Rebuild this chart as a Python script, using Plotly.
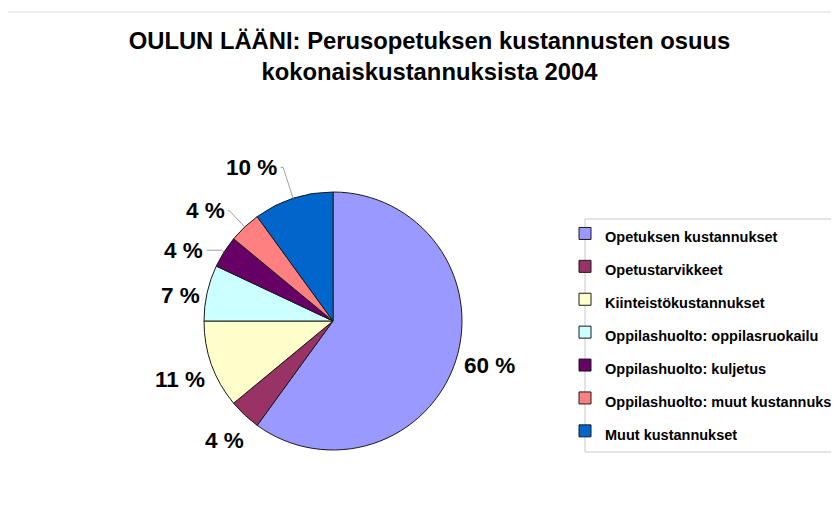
import math
import plotly.graph_objects as go

# kustannuserät ja osuudet (%)
categories = [
    "Opetuksen kustannukset",
    "Opetustarvikkeet",
    "Kiinteistökustannukset",
    "Oppilashuolto: oppilasruokailu",
    "Oppilashuolto: kuljetus",
    "Oppilashuolto: muut kustannukset",
    "Muut kustannukset",
]
shares = [60, 4, 11, 7, 4, 4, 10]
colors = ["#9999FF", "#993366", "#FFFFCC", "#CCFFFF", "#660066", "#FF8080", "#0066CC"]

# label placement (style): distance from centre in px, angular nudge in degrees, leader line
label_dist = [163, 161, 164, 155, 165, 169, 174]
label_nudge = [-2, -1, -1, -3, -7, -6, -10]
leader = [False, False, False, False, True, True, True]

W, H = 839, 524
OFF = 8  # page body margin
cx, cy, r = 333 - OFF, 321 - OFF, 129


def px(x):
    return (x - OFF) / W


def py(y):
    return 1 - (y - OFF) / H


fig = go.Figure()
fig.add_trace(go.Pie(
    labels=[f'<span style="font-size:14.5px">{c}</span>' for c in categories],
    values=shares,
    textinfo="none",
    sort=False,
    direction="clockwise",
    rotation=0,
    marker=dict(colors=colors, line=dict(color="#1a1a1a", width=1)),
    domain=dict(x=[(cx - r) / W, (cx + r) / W], y=[1 - (cy + r) / H, 1 - (cy - r) / H]),
    hoverinfo="label+percent",
))

# percentage labels around the pie, from the slice mid-angles
annotations = []
shapes = []
total = sum(shares)
cum = 0
for i, v in enumerate(shares):
    mid = (cum + v / 2) / total * 360
    cum += v
    a = math.radians(mid + label_nudge[i])
    lx = cx + label_dist[i] * math.sin(a)
    ly = cy - label_dist[i] * math.cos(a)
    txt = f"{v} %"
    annotations.append(dict(
        x=lx / W, y=1 - ly / H, xref="paper", yref="paper", text=f"<b>{txt}</b>",
        showarrow=False, xanchor="center", yanchor="middle",
        font=dict(size=22.5, family="Arial, Liberation Sans", color="black"),
    ))
    if leader[i]:
        am = math.radians(mid)
        ex, ey = cx + r * math.sin(am), cy - r * math.cos(am)
        t = (cy - ly) / (r * math.cos(am))
        bx = cx + r * t * math.sin(am)
        right = lx + len(txt) * 6.6 + 3
        path = f"M {ex / W},{1 - ey / H} L {bx / W},{1 - ly / H} L {right / W},{1 - ly / H}"
        shapes.append(dict(type="path", xref="paper", yref="paper", path=path,
                           line=dict(color="#a0a0a0", width=1)))

fig.update_layout(
    width=W, height=H,
    margin=dict(l=0, r=0, t=0, b=0, autoexpand=False),
    paper_bgcolor="white",
    font=dict(family="Arial, Liberation Sans", color="black"),
    title=dict(
        text="<b>OULUN LÄÄNI: Perusopetuksen kustannusten osuus<br>kokonaiskustannuksista 2004</b>",
        x=px(429.5), xanchor="center", y=py(49), yanchor="top",
        font=dict(size=23.8, family="Arial, Liberation Sans", color="black"),
    ),
    legend=dict(
        x=px(565), xanchor="left", y=py(212), yanchor="top",
        borderwidth=0, bgcolor="rgba(0,0,0,0)",
        font=dict(size=23, family="Arial, Liberation Sans", color="black", weight="bold"),
    ),
    showlegend=True,
    annotations=annotations,
    shapes=[
        dict(type="rect", xref="paper", yref="paper", x0=px(5), x1=1.01, y0=-0.01, y1=py(12),
             line=dict(color="#dcdcdc", width=1)),
        dict(type="rect", xref="paper", yref="paper", x0=px(585), x1=1.02, y0=py(452), y1=py(219),
             line=dict(color="#c8c8c8", width=1), fillcolor="white", layer="below"),
    ] + shapes,
)

fig.write_html("out.html")
